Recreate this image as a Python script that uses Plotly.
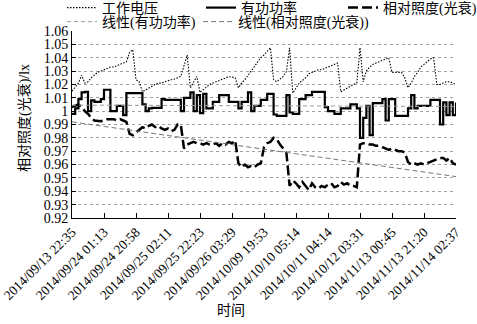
import plotly.graph_objects as go

# ---- data ----
tick_labels = ["2014/09/13 22:35", "2014/09/24 01:13", "2014/09/24 20:58", "2014/09/25 02:11",
               "2014/09/25 22:23", "2014/09/26 03:29", "2014/10/09 19:53", "2014/10/10 05:14",
               "2014/10/11 04:14", "2014/10/12 03:31", "2014/11/13 00:45", "2014/11/13 21:20",
               "2014/11/14 02:37"]

voltage = [1.015, 1.018, 1.021, 1.027, 1.021, 1.022, 1.025, 1.027, 1.029, 1.030,
           1.031, 1.032, 1.033, 1.033, 1.034, 1.035, 1.036, 1.037, 1.044, 1.046,
           1.0235, 1.022, 1.0145, 1.016, 1.0175, 1.019, 1.020, 1.021, 1.021, 1.022,
           1.023, 1.0235, 1.024, 1.025, 1.026, 1.034, 1.042, 1.0175, 1.022, 1.026,
           1.014, 1.016, 1.018, 1.020, 1.021, 1.022, 1.023, 1.024, 1.025, 1.0258,
           1.0255, 1.025, 1.0175, 1.021, 1.0235, 1.027, 1.030, 1.034, 1.037, 1.040,
           1.042, 1.045, 1.0475, 1.0235, 1.022, 1.024, 1.026, 1.0295, 1.0475, 1.0135,
           1.017, 1.021, 1.023, 1.025, 1.028, 1.029, 1.030, 1.031, 1.031, 1.032,
           1.0325, 1.034, 1.035, 1.036, 1.0145, 1.016, 1.0175, 1.019, 1.020, 1.021,
           1.0475, 1.022, 1.030, 1.033, 1.035, 1.036, 1.037, 1.038, 1.039, 1.040,
           1.029, 1.029, 1.029, 1.029, 1.025, 1.0175, 1.021, 1.026, 1.029, 1.033,
           1.035, 1.037, 1.039, 1.040, 1.020, 1.020, 1.021, 1.022, 1.022, 1.021,
           1.020]

power = [0.998, 1.002, 1.009, 1.014, 1.0145, 1.000, 1.008, 1.007, 1.007, 1.009,
         1.016, 1.016, 1.000, 1.000, 1.004, 1.004, 0.997, 1.0135, 1.0135, 1.0135,
         1.0135, 1.0135, 1.005, 1.000, 1.002, 1.0025, 1.0025, 1.0025, 1.009, 1.0085,
         1.0085, 1.0085, 1.0085, 1.0085, 1.000, 1.010, 1.010, 1.014, 1.000, 1.012,
         0.9985, 1.013, 1.002, 1.002, 1.007, 1.007, 1.012, 1.012, 1.012, 1.007,
         1.007, 1.007, 1.002, 1.007, 1.007, 1.014, 1.000, 1.004, 1.004, 1.0085,
         1.0085, 1.013, 1.013, 0.9975, 0.9965, 0.9965, 0.9965, 1.012, 0.999, 0.998,
         0.998, 1.009, 1.009, 1.012, 1.012, 1.0145, 1.0145, 1.0145, 1.0145, 1.003,
         1.000, 1.000, 0.998, 0.998, 1.002, 1.002, 1.002, 1.005, 1.005, 1.002,
         0.980, 0.995, 1.004, 0.982, 1.006, 1.006, 1.006, 1.009, 0.993, 1.009,
         1.009, 0.9965, 0.9965, 0.9965, 0.9965, 1.002, 1.012, 1.002, 1.004, 1.004,
         1.004, 1.004, 1.0085, 1.0085, 1.0085, 0.990, 1.0065, 0.997, 1.0065, 0.997,
         1.0065]

light = [1.003, 1.004, 1.005, 1.003, 1.000, 0.998, 0.995, 0.993, 0.9925, 0.9925,
         0.993, 0.994, 0.994, 0.994, 0.993, 0.994, 0.993, 0.992, 0.983, 0.982,
         0.984, 0.986, 0.988, 0.987, 0.989, 0.990, 0.988, 0.989, 0.987, 0.986,
         0.987, 0.985, 0.986, 0.990, 0.990, 0.972, 0.975, 0.976, 0.977, 0.976,
         0.976, 0.975, 0.976, 0.975, 0.975, 0.976, 0.974, 0.976, 0.975, 0.977,
         0.976, 0.978, 0.961, 0.958, 0.960, 0.958, 0.959, 0.958, 0.960, 0.961,
         0.973, 0.976, 0.977, 0.980, 0.979, 0.975, 0.972, 0.969, 0.944, 0.948,
         0.946, 0.943, 0.947, 0.944, 0.941, 0.946, 0.943, 0.942, 0.944, 0.943,
         0.945, 0.946, 0.943, 0.944, 0.947, 0.945, 0.946, 0.944, 0.944, 0.943,
         0.975, 0.976, 0.976, 0.975, 0.975, 0.974, 0.974, 0.973, 0.972, 0.971,
         0.972, 0.971, 0.970, 0.970, 0.969, 0.962, 0.960, 0.961, 0.960, 0.961,
         0.960, 0.961, 0.962, 0.963, 0.964, 0.965, 0.965, 0.963, 0.965, 0.961,
         0.960]

power_trend = [1.0045, 1.0035]   # start / end of linear fit
light_trend = [0.992, 0.951]

y_ticks = [0.92, 0.93, 0.94, 0.95, 0.96, 0.97, 0.98, 0.99, 1.00, 1.01, 1.02, 1.03, 1.04, 1.05, 1.06]
y_ticktext = ["0.92", "0.93", "0.94", "0.95", "0.96", "0.97", "0.98", "0.99", "1",
              "1.01", "1.02", "1.03", "1.04", "1.05", "1.06"]

n = len(voltage)
xs = list(range(n))
tick_pos = list(range(0, n, 10))
trend_x = [0, n - 1]

SERIF = "Liberation Serif"
FONT = "Liberation Serif, Noto Sans CJK SC"

fig = go.Figure()
fig.add_trace(go.Scatter(x=xs, y=voltage, mode="lines", name="工作电压", showlegend=True,
                         line=dict(color="#000000", width=1.1, dash="1.5px,1.5px"), legend="legend"))
fig.add_trace(go.Scatter(x=xs, y=power, mode="lines", name="有功功率", showlegend=True,
                         line=dict(color="black", width=2.2, shape="hv"), legend="legend2"))
fig.add_trace(go.Scatter(x=xs, y=light, mode="lines", name="相对照度(光衰)", showlegend=True,
                         line=dict(color="black", width=2.5, dash="10px,4px"), legend="legend3"))
fig.add_trace(go.Scatter(x=trend_x, y=power_trend, mode="lines", name="线性(有功功率)",
                         showlegend=True,
                         line=dict(color="#9a9a9a", width=1, dash="4px,3px"), legend="legend4"))
fig.add_trace(go.Scatter(x=trend_x, y=light_trend, mode="lines", name="线性(相对照度(光衰))",
                         showlegend=True,
                         line=dict(color="#777777", width=1, dash="5px,3px"), legend="legend5"))

L, R, T, B = 72, 21, 31, 106
W, H = 477, 324
pw, ph = W - L - R, H - T - B

def px(xp):
    return (xp - L) / pw

def py(yp):
    return (H - B - yp) / ph

def leg(xp, yp):
    return dict(x=px(xp), y=py(yp), xanchor="left", yanchor="middle", orientation="h",
                bgcolor="rgba(0,0,0,0)", borderwidth=0, visible=True,
                font=dict(family=FONT, size=14, color="black"))

fig.update_layout(
    width=W, height=H, showlegend=True,
    margin=dict(l=L, r=R, t=T, b=B, autoexpand=False),
    paper_bgcolor="white", plot_bgcolor="white",
    font=dict(family=FONT, size=14, color="black"),
    legend=leg(62, 8), legend2=leg(201, 8), legend3=leg(343, 8),
    legend4=leg(62, 22), legend5=leg(198, 22),
    xaxis=dict(range=[0, n - 1], tickmode="array", tickvals=tick_pos, ticktext=tick_labels,
               tickangle=-45, ticks="inside", ticklen=5, tickcolor="black",
               ticklabeloverflow="allow",
               showline=True, linecolor="black", linewidth=1, showgrid=False, zeroline=False,
               tickfont=dict(family=SERIF, size=13.5, color="black")),
    yaxis=dict(range=[0.92, 1.06], tickmode="array", tickvals=y_ticks, ticktext=y_ticktext,
               ticks="inside", ticklen=4, tickcolor="black",
               showline=True, linecolor="black", linewidth=1,
               showgrid=True, gridcolor="#a0a0a0", griddash="dot", gridwidth=1, zeroline=False,
               tickfont=dict(family=SERIF, size=14, color="black")),
    annotations=[
        dict(text="相对照度(光衰)/lx", x=px(24), y=py(118), xref="paper", yref="paper",
             xanchor="center", yanchor="middle",
             showarrow=False, textangle=-90, font=dict(family=FONT, size=14, color="black")),
        dict(text="时间", x=px(231), y=py(310), xref="paper", yref="paper",
             xanchor="center", yanchor="middle",
             showarrow=False, font=dict(family=FONT, size=14, color="black")),
    ],
)

fig.write_html("out.html")
